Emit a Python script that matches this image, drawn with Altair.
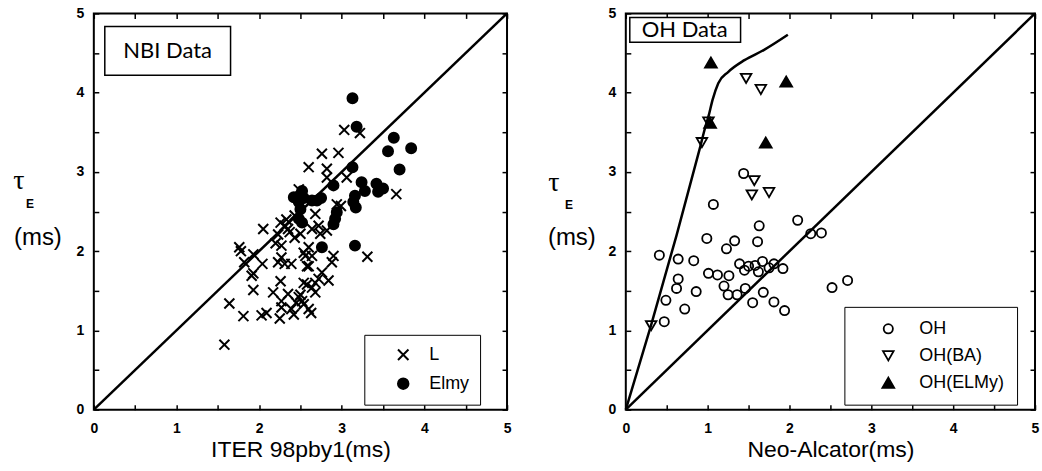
import altair as alt
import pandas as pd

# ---------------- data ----------------
L_x = [1.58, 1.64, 1.81, 2.03, 2.09, 2.25, 1.76, 1.78, 1.82, 1.93, 2.04, 1.93, 1.91, 1.93,
       2.05, 2.17, 2.23, 2.26, 2.27, 2.23, 2.27, 2.31, 2.26, 2.27, 2.35, 2.27, 2.39, 2.42,
       2.48, 2.52, 2.54, 2.63, 2.60, 2.39, 2.35, 2.43, 2.48, 2.50, 2.54, 2.60, 2.64, 2.60,
       2.64, 2.68, 2.72, 2.74, 2.82, 2.60, 2.76, 2.82, 2.82, 2.96, 3.03, 3.22, 3.06, 2.94,
       2.99, 3.66, 3.31, 2.90, 2.88, 2.84, 2.76, 2.72, 2.68, 2.64, 2.58, 2.68, 2.54, 2.58,
       2.56, 2.43, 2.37, 2.31, 2.33, 2.50, 2.45, 2.20]
L_y = [0.82, 1.34, 1.18, 1.19, 1.22, 1.15, 2.05, 2.00, 1.86, 1.96, 1.84, 1.72, 1.69, 1.51,
       2.28, 1.48, 2.21, 2.36, 2.07, 1.86, 1.92, 1.84, 1.62, 1.37, 1.46, 1.29, 1.27, 1.20,
       1.42, 1.37, 1.33, 1.22, 1.27, 1.84, 2.28, 2.45, 2.78, 2.22, 1.98, 2.05, 1.94, 1.81,
       2.28, 2.47, 2.32, 2.22, 2.26, 3.06, 3.23, 3.04, 2.93, 3.24, 3.53, 3.49, 2.93, 2.59,
       2.57, 2.72, 1.93, 1.94, 1.86, 1.63, 1.73, 1.65, 1.60, 1.54, 1.58, 1.48, 1.60, 1.81,
       1.94, 2.17, 2.24, 2.32, 2.40, 1.45, 1.35, 2.10]

E_x = [3.13, 3.18, 3.63, 3.56, 3.84, 3.70, 3.13, 3.24, 3.28, 3.42, 3.44, 3.50, 3.16, 3.14,
       3.17, 2.90, 2.75, 2.70, 2.52, 2.42, 2.48, 2.54, 2.64, 2.50, 2.48, 2.52, 2.94, 2.92,
       2.90, 3.16, 2.76]
E_y = [3.93, 3.57, 3.43, 3.26, 3.30, 3.03, 3.06, 2.87, 2.76, 2.85, 2.75, 2.79, 2.70, 2.62,
       2.55, 2.83, 2.67, 2.64, 2.76, 2.68, 2.62, 2.67, 2.64, 2.53, 2.41, 2.36, 2.49, 2.41,
       2.34, 2.07, 2.05]

OH_x = [0.41, 0.49, 0.47, 0.64, 0.64, 0.62, 0.72, 0.83, 0.86, 1.07, 0.99, 1.01, 1.12, 1.23,
        1.33, 1.26, 1.20, 1.25, 1.36, 1.46, 1.39, 1.45, 1.50, 1.58, 1.62, 1.67, 1.75, 1.81,
        1.92, 1.55, 1.68, 1.81, 1.94, 1.44, 1.63, 1.61, 2.10, 2.26, 2.39, 2.52, 2.71]
OH_y = [1.95, 1.38, 1.11, 1.90, 1.65, 1.53, 1.27, 1.88, 1.49, 2.59, 2.16, 1.72, 1.70, 2.03,
        2.13, 1.69, 1.56, 1.45, 1.45, 1.53, 1.84, 1.76, 1.81, 1.82, 1.74, 1.87, 1.79, 1.84,
        1.78, 1.35, 1.48, 1.36, 1.25, 2.98, 2.32, 2.12, 2.39, 2.22, 2.23, 1.54, 1.63]
BA_x = [0.31, 0.93, 1.01, 1.47, 1.65, 1.57, 1.54, 1.75]
BA_y = [1.06, 3.37, 3.63, 4.18, 4.04, 2.89, 2.71, 2.74]
EL_x = [1.04, 1.96, 1.71, 1.03]
EL_y = [4.38, 4.14, 3.37, 3.62]

curve_x = [0.0, 0.31, 0.62, 0.91, 0.97, 1.01, 1.06, 1.13, 1.25, 1.45, 1.69, 1.98]
curve_y = [0.0, 1.07, 2.20, 3.32, 3.56, 3.70, 3.91, 4.12, 4.26, 4.41, 4.54, 4.73]
diag_v = [0, 5]

left_series = ["L", "Elmy"]
right_series = ["OH", "OH(BA)", "OH(ELMy)"]
tick_values = [0, 0.5, 1, 1.5, 2, 2.5, 3, 3.5, 4, 4.5, 5]

# ---------------- frames ----------------
left_df = pd.DataFrame({"x": L_x + E_x, "y": L_y + E_y,
                        "s": ["L"] * len(L_x) + ["Elmy"] * len(E_x)})
right_df = pd.DataFrame({"x": OH_x + BA_x + EL_x, "y": OH_y + BA_y + EL_y,
                         "s": ["OH"] * len(OH_x) + ["OH(BA)"] * len(BA_x) + ["OH(ELMy)"] * len(EL_x)})
diag_df = pd.DataFrame({"x": diag_v, "y": diag_v})
curve_df = pd.DataFrame({"x": curve_x, "y": curve_y})

W_L, W_R, H = 414, 410, 397
SANS = "Liberation Sans"
label_expr = "datum.value % 1 === 0 ? format(datum.value, 'd') : ''"


def sc():
    return alt.Scale(domain=[0, 5], nice=False, zero=False)


def main_axis(orient, title=None):
    kw = dict(orient=orient, values=tick_values, labelExpr=label_expr, offset=-5,
              tickSize=5, tickWidth=1.5, tickColor="black", domain=False, grid=False,
              labelFont=SANS, labelFontSize=14, labelFontWeight=700, labelColor="black",
              labelFlush=False, labelOverlap=False)
    if orient == "bottom":
        kw.update(labelPadding=12, title=title, titleFont=SANS, titleFontSize=23,
                  titleFontWeight="normal", titleColor="black", titlePadding=3)
    else:
        kw.update(labelPadding=10, title=None)
    return alt.Axis(**kw)


def frame_axis(orient):
    return alt.Axis(orient=orient, values=tick_values, labels=False, offset=-5, tickSize=5,
                    tickWidth=1.5, tickColor="black", domain=False, grid=False, title=None)


def text_mark(txt, x, y, size, font=SANS, weight="normal", align="center"):
    return alt.Chart(pd.DataFrame({"t": [txt]})).mark_text(
        font=font, fontSize=size, fontWeight=weight, align=align, baseline="middle",
        color="black").encode(text="t:N", x=alt.value(x), y=alt.value(y))


def box(x1, x2, y1, y2):
    return alt.Chart(pd.DataFrame({"t": [0]})).mark_rect(
        fill="white", stroke="black", strokeWidth=1.5).encode(
        x=alt.value(x1), x2=alt.value(x2), y=alt.value(y1), y2=alt.value(y2))


def diag_frame():
    return alt.Chart(diag_df).mark_line(color="black", strokeWidth=2.5).encode(
        x=alt.X("x:Q", scale=sc(), axis=frame_axis("top")),
        y=alt.Y("y:Q", scale=sc(), axis=frame_axis("right")))


def legend(lx, ly, pad, so, lo, rp, sw):
    return alt.Legend(orient="none", legendX=lx, legendY=ly, title=None,
                      strokeColor="black", fillColor="white", padding=pad,
                      symbolOffset=so, labelOffset=lo, rowPadding=rp,
                      labelFont=SANS, labelFontSize=18, labelColor="black",
                      symbolSize=110, symbolStrokeWidth=sw, symbolStrokeColor="black")


cross = "M-1,-1L1,1M1,-1L-1,1"

# ---------------- left panel ----------------
leg_l = legend(271, 322, 11, 19, 17, 9, 2)
left_pts = alt.Chart(left_df).mark_point(strokeWidth=2, opacity=1, size=100).encode(
    x=alt.X("x:Q", scale=sc(), axis=main_axis("bottom", "ITER 98pby1(ms)")),
    y=alt.Y("y:Q", scale=sc(), axis=main_axis("left")),
    shape=alt.Shape("s:N", scale=alt.Scale(domain=left_series, range=[cross, "circle"]),
                    legend=leg_l),
    fill=alt.Fill("s:N", scale=alt.Scale(domain=left_series, range=["transparent", "black"]),
                  legend=leg_l),
    stroke=alt.Stroke("s:N", scale=alt.Scale(domain=left_series, range=["black", "black"]),
                      legend=leg_l),
)

left = alt.layer(
    diag_frame(),
    left_pts,
    box(11, 137, 13, 62),
    text_mark("NBI Data", 74, 38, 22, font="Lato"),
    text_mark("τ", -75, 168, 28, font="Liberation Serif"),
    text_mark("E", -64, 191, 12, weight="bold"),
    text_mark("(ms)", -80, 225, 24, align="left"),
).resolve_axis(x="independent", y="independent").properties(width=W_L, height=H)

# ---------------- right panel ----------------
leg_r = legend(219, 294, 13, 22, 22, 9, 1.8)
right_pts = alt.Chart(right_df).mark_point(strokeWidth=1.8, opacity=1).encode(
    x=alt.X("x:Q", scale=sc(), axis=main_axis("bottom", "Neo-Alcator(ms)")),
    y=alt.Y("y:Q", scale=sc(), axis=main_axis("left")),
    shape=alt.Shape("s:N", scale=alt.Scale(domain=right_series,
                                           range=["circle", "triangle-down", "triangle-up"]),
                    legend=leg_r),
    fill=alt.Fill("s:N", scale=alt.Scale(domain=right_series,
                                         range=["transparent", "transparent", "black"]),
                  legend=leg_r),
    stroke=alt.Stroke("s:N", scale=alt.Scale(domain=right_series,
                                             range=["black", "black", "black"]),
                      legend=leg_r),
    size=alt.Size("s:N", scale=alt.Scale(domain=right_series, range=[85, 140, 160]),
                  legend=leg_r),
)

curve = alt.Chart(curve_df).mark_line(color="black", strokeWidth=2.5, interpolate="monotone").encode(
    x=alt.X("x:Q", scale=sc(), axis=None),
    y=alt.Y("y:Q", scale=sc(), axis=None))

right = alt.layer(
    diag_frame(),
    curve,
    right_pts,
    box(4, 115, 4, 29),
    text_mark("OH Data", 59, 17, 22, font="Lato"),
    text_mark("τ", -72, 170, 28, font="Liberation Serif"),
    text_mark("E", -57, 192, 12, weight="bold"),
    text_mark("(ms)", -78, 225, 24, align="left"),
).resolve_axis(x="independent", y="independent").properties(width=W_R, height=H)

chart = alt.hconcat(left, right, spacing=119, bounds="flush").resolve_scale(
    x="independent", y="independent", shape="independent", fill="independent",
    stroke="independent", size="independent"
).resolve_legend(shape="independent", fill="independent", stroke="independent",
                 size="independent").properties(
    padding={"left": 12, "top": 5, "right": 1, "bottom": 2},
    background="white",
).configure_view(stroke="black", strokeWidth=2)

chart.save("out.html", embed_options={"renderer": "svg", "actions": False})
